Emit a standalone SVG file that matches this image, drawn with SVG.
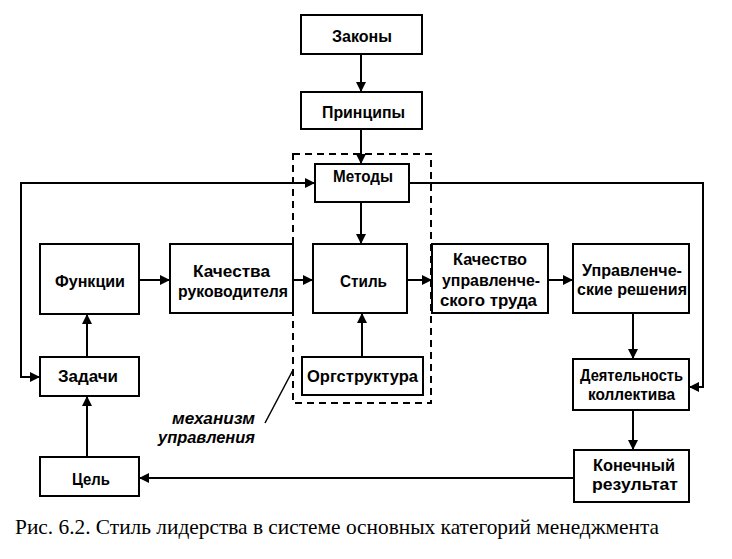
<svg xmlns="http://www.w3.org/2000/svg" width="732" height="559" viewBox="0 0 732 559">
<style>
.b{fill:#fff;stroke:#000;stroke-width:2}
.t{font-family:"Liberation Sans",Arial,sans-serif;font-weight:bold;font-size:16.5px;fill:#000}
.c{fill:none;stroke:#000;stroke-width:2}
.d{fill:none;stroke:#000;stroke-width:2;stroke-dasharray:7,5}
.m{font-family:"Liberation Sans",Arial,sans-serif;font-weight:bold;font-style:italic;font-size:16.5px;fill:#000}
.cap{font-family:"Liberation Serif","Times New Roman",serif;font-size:21px;fill:#000}
</style>
<defs>
<marker id="a" markerWidth="10" markerHeight="10" refX="10" refY="5" orient="auto" markerUnits="userSpaceOnUse">
<path d="M0,0 L10,5 L0,10 Z" fill="#000"/>
</marker>
</defs>
<rect width="732" height="559" fill="#fff"/>
<g id="mechanism">
<path class="d" d="M293,154 H431 V403 H293 Z"/>
<line x1="265" y1="423" x2="293" y2="370" stroke="#000" stroke-width="1.5"/>
<text class="m" x="172" y="424" textLength="83" lengthAdjust="spacingAndGlyphs">механизм</text>
<text class="m" x="158" y="443" textLength="97" lengthAdjust="spacingAndGlyphs">управления</text>
</g>
<g id="connectors">
<line class="c" x1="361" y1="54" x2="361" y2="92" marker-end="url(#a)"/>
<line class="c" x1="361" y1="129" x2="361" y2="164" marker-end="url(#a)"/>
<line class="c" x1="361" y1="202" x2="361" y2="244" marker-end="url(#a)"/>
<line class="c" x1="362" y1="357" x2="362" y2="313" marker-end="url(#a)"/>
<line class="c" x1="139" y1="280" x2="170" y2="280" marker-end="url(#a)"/>
<line class="c" x1="293" y1="280" x2="313" y2="280" marker-end="url(#a)"/>
<line class="c" x1="407" y1="280" x2="432" y2="280" marker-end="url(#a)"/>
<line class="c" x1="548" y1="280" x2="573" y2="280" marker-end="url(#a)"/>
<line class="c" x1="633" y1="313" x2="633" y2="359" marker-end="url(#a)"/>
<line class="c" x1="633" y1="410" x2="633" y2="450" marker-end="url(#a)"/>
<line class="c" x1="574" y1="478" x2="139" y2="478" marker-end="url(#a)"/>
<line class="c" x1="87" y1="457" x2="87" y2="396" marker-end="url(#a)"/>
<line class="c" x1="87" y1="357" x2="87" y2="314" marker-end="url(#a)"/>
<polyline class="c" points="315,183 21,183 21,377 40,377" marker-end="url(#a)"/>
<line class="c" x1="25" y1="183" x2="315" y2="183" marker-end="url(#a)"/>
<polyline class="c" points="409,183 703,183 703,387 689,387" marker-end="url(#a)"/>
</g>
<g id="zakony"><rect class="b" x="301" y="15" width="121" height="39"/><text class="t" x="332" y="42" textLength="60" lengthAdjust="spacingAndGlyphs">Законы</text></g>
<g id="printsipy"><rect class="b" x="301" y="92" width="121" height="37"/><text class="t" x="322" y="118" textLength="83" lengthAdjust="spacingAndGlyphs">Принципы</text></g>
<g id="metody"><rect class="b" x="315" y="164" width="94" height="38"/><text class="t" x="333" y="182" textLength="60" lengthAdjust="spacingAndGlyphs">Методы</text></g>
<g id="funktsii"><rect class="b" x="40" y="244" width="99" height="70"/><text class="t" x="55" y="287" textLength="70" lengthAdjust="spacingAndGlyphs">Функции</text></g>
<g id="kachestva"><rect class="b" x="170" y="244" width="123" height="69"/><text class="t" x="193" y="277" textLength="77" lengthAdjust="spacingAndGlyphs">Качества</text><text class="t" x="178" y="297" textLength="110" lengthAdjust="spacingAndGlyphs">руководителя</text></g>
<g id="stil"><rect class="b" x="313" y="244" width="94" height="69"/><text class="t" x="340" y="287" textLength="47" lengthAdjust="spacingAndGlyphs">Стиль</text></g>
<g id="kachestvo"><rect class="b" x="432" y="244" width="116" height="69"/><text class="t" x="453" y="265" textLength="74" lengthAdjust="spacingAndGlyphs">Качество</text><text class="t" x="442" y="286" textLength="98" lengthAdjust="spacingAndGlyphs">управленче-</text><text class="t" x="440" y="306" textLength="97" lengthAdjust="spacingAndGlyphs">ского труда</text></g>
<g id="resheniya"><rect class="b" x="573" y="244" width="116" height="69"/><text class="t" x="582" y="276" textLength="100" lengthAdjust="spacingAndGlyphs">Управленче-</text><text class="t" x="577" y="295" textLength="110" lengthAdjust="spacingAndGlyphs">ские решения</text></g>
<g id="orgstruktura"><rect class="b" x="302" y="357" width="121" height="38"/><text class="t" x="307" y="382" textLength="111" lengthAdjust="spacingAndGlyphs">Оргструктура</text></g>
<g id="zadachi"><rect class="b" x="40" y="357" width="99" height="39"/><text class="t" x="58" y="382" textLength="60" lengthAdjust="spacingAndGlyphs">Задачи</text></g>
<g id="deyatelnost"><rect class="b" x="573" y="359" width="116" height="51"/><text class="t" x="580" y="381" textLength="103" lengthAdjust="spacingAndGlyphs">Деятельность</text><text class="t" x="588" y="400" textLength="87" lengthAdjust="spacingAndGlyphs">коллектива</text></g>
<g id="rezultat"><rect class="b" x="574" y="450" width="115" height="52"/><text class="t" x="593" y="471" textLength="82" lengthAdjust="spacingAndGlyphs">Конечный</text><text class="t" x="592" y="490" textLength="86" lengthAdjust="spacingAndGlyphs">результат</text></g>
<g id="tsel"><rect class="b" x="40" y="457" width="99" height="39"/><text class="t" x="72" y="485" textLength="38" lengthAdjust="spacingAndGlyphs">Цель</text></g>
<text class="cap" x="15" y="534" textLength="644" lengthAdjust="spacingAndGlyphs">Рис. 6.2. Стиль лидерства в системе основных категорий менеджмента</text>
</svg>
